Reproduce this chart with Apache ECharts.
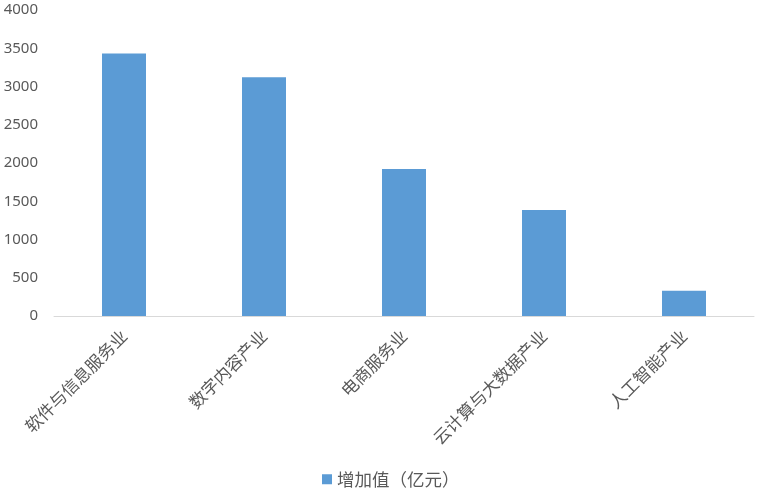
<!DOCTYPE html>
<html><head><meta charset="utf-8">
<script src="https://cdn.jsdelivr.net/npm/echarts@6/dist/echarts.min.js"></script>
<style>html,body{margin:0;padding:0;background:#fff}#c{width:760px;height:490px}</style>
</head><body><div id="c"></div>
<script>
const categories = ['软件与信息服务业','数字内容产业','电商服务业','云计算与大数据产业','人工智能产业'];
const seriesName = '增加值（亿元）';
const values = [3430, 3120, 1920, 1385, 330];
const yTicks = {min: 0, max: 4000, interval: 500};

const chart = echarts.init(document.getElementById('c'));
chart.setOption({
  animation: false,
  grid: {left: 54, right: 6, top: 10, bottom: 174, containLabel: false, outerBoundsMode: 'none'},
  legend: {
    bottom: -3, left: 317,
    icon: 'rect', itemWidth: 10, itemHeight: 10, itemGap: 4,
    textStyle: {color: '#595959', fontSize: 17.5, fontFamily: 'Noto Sans CJK SC'},
    data: [seriesName]
  },
  xAxis: {
    type: 'category', data: categories,
    axisLine: {lineStyle: {color: '#D9D9D9', width: 1}},
    axisTick: {show: false},
    axisLabel: {rotate: 45, margin: 17, interval: 0, color: '#595959', fontSize: 17, fontFamily: 'Noto Sans CJK SC'}
  },
  yAxis: {
    type: 'value', min: yTicks.min, max: yTicks.max, interval: yTicks.interval,
    axisLine: {show: false}, axisTick: {show: false}, splitLine: {show: false},
    axisLabel: {color: '#595959', fontSize: 15, margin: 16, fontFamily: 'Noto Sans', formatter: v => String(v)}
  },
  series: [{
    name: seriesName, type: 'bar', data: values, barWidth: 44,
    itemStyle: {color: '#5B9BD5'}
  }]
});
</script></body></html>
